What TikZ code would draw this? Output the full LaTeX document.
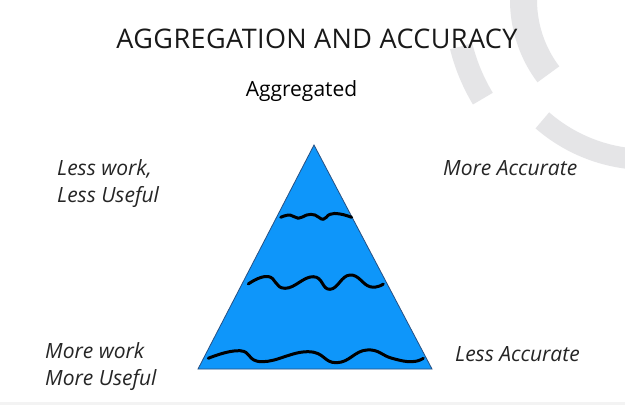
\documentclass[tikz,border=0pt]{standalone}
\usepackage{fontspec}
\setmainfont{Open Sans}
\definecolor{ringgray}{RGB}{229,229,231}
\definecolor{stripgray}{RGB}{243,243,243}
\definecolor{pyrblue}{RGB}{14,150,250}
\definecolor{pyredge}{RGB}{40,80,130}
\tikzset{
  ring/.style={draw=ringgray},
  wave/.style={draw=black, line width=3pt, line cap=round, line join=round},
  titletext/.style={font=\fontsize{27}{31}\selectfont\addfontfeatures{LetterSpace=1.5}, anchor=base, inner sep=0pt, text=black!90},
  subtext/.style={font=\fontsize{21}{25}\selectfont, anchor=base, inner sep=0pt},
  sidetext/.style={font=\fontsize{21}{25}\selectfont\itshape, anchor=base west, inner sep=0pt, text=black!85}
}
\begin{document}
\begin{tikzpicture}[x=1pt,y=-1pt]
\useasboundingbox (0,0) rectangle (625,405);
\clip (0,0) rectangle (625,405);
\fill[white] (0,0) rectangle (625,405);
\fill[stripgray] (0,402) rectangle (625,405);
% decorative rings
\coordinate (rc) at (647,0);
\draw[ring, line width=27pt] (rc) ++(143:123.5) arc[start angle=143, end angle=200, radius=123.5];
\draw[ring, line width=23pt] (rc) ++(149:191.5) arc[start angle=149, end angle=166, radius=191.5];
\draw[ring, line width=21pt] (rc) ++(131:159.5) arc[start angle=131, end angle=90, radius=159.5];
% texts
\node[titletext] (title) at (317,48) {AGGREGATION AND ACCURACY};
\node[subtext] (agg) at (301.5,96) {Aggregated};
\node[sidetext] (lw) at (57,175) {Less work,};
\node[sidetext] (lu) at (57,202) {Less Useful};
\node[sidetext] (mw) at (45,358) {More work};
\node[sidetext] (mu) at (45,385) {More Useful};
\node[sidetext] (ma) at (443,175) {More Accurate};
\node[sidetext] (la) at (455,361) {Less Accurate};
% pyramid
\coordinate (apex) at (314,145);
\coordinate (bl) at (198,369);
\coordinate (br) at (432,369);
\filldraw[fill=pyrblue, draw=pyredge, line width=0.8pt] (apex) -- (br) -- (bl) -- cycle;
% wavy lines
\draw[wave] plot[smooth, tension=0.8] coordinates {(280.7,217.3) (290,215) (298.3,218.3) (306.7,215) (315,215) (323.3,219.3) (330,214.3) (340,214) (351.7,217.3)};
\draw[wave] plot[smooth, tension=0.8] coordinates {(248.3,284) (268,276.5) (285,288.3) (313.3,276.7) (330,289.3) (350,275) (370,286.7) (383.3,284)};
\draw[wave] plot[smooth, tension=0.8] coordinates {(208.3,358.3) (240,350.7) (262,361.7) (308.3,351.7) (336.7,362.7) (366.7,350) (392,358.3) (411.7,361.7) (423.3,358.3)};
\end{tikzpicture}
\end{document}
